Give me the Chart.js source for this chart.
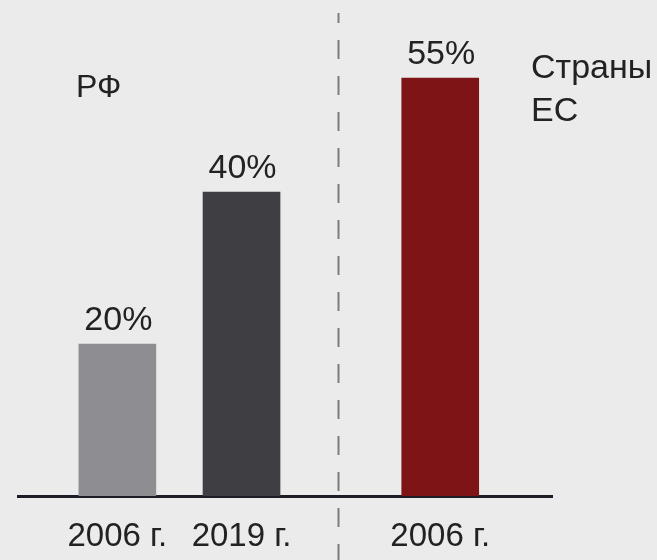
<!DOCTYPE html>
<html lang="ru">
<head>
<meta charset="utf-8">
<title>РФ / Страны ЕС</title>
<script src="https://cdn.jsdelivr.net/npm/chart.js@4"></script>
<style>
  html, body { margin: 0; padding: 0; background: #ebebeb; }
  #wrap { width: 657px; height: 560px; position: relative; }
</style>
</head>
<body>
<div id="wrap"><canvas id="chart"></canvas></div>
<script>
// Данные графика
const yearLabels = ['2006 г.', '2019 г.', '2006 г.'];
const shares = [20, 40, 55];
const groupPos = [1, 2, 3.6];      // положение столбцов на оси X (РФ | ЕС)
const dividerPos = 2.78;           // разделитель между группами
const barColors = ['#8e8d91', '#3f3e43', '#7f1416'];
const groupTitles = [
  { lines: ['РФ'], x: 76, y: 97 },
  { lines: ['Страны', 'ЕС'], x: 531, y: 78 }
];

const FONT = '"Liberation Sans", Arial, Helvetica, sans-serif';
const TEXT_COLOR = '#222222';

/**
 * Подписи значений над столбцами, пунктир и заголовки групп
 */
const decorPlugin = {
  id: 'decor',
  afterDatasetsDraw(chart) {
    const { ctx } = chart;
    const meta = chart.getDatasetMeta(0);
    ctx.save();
    ctx.fillStyle = TEXT_COLOR;
    ctx.font = `34px ${FONT}`;
    ctx.textAlign = 'center';
    ctx.textBaseline = 'alphabetic';
    meta.data.forEach((bar, i) => {
      ctx.fillText(shares[i] + '%', bar.x + 1, bar.y - 14);
    });

    // Вертикальный пунктир
    const xDiv = Math.round(chart.scales.x.getPixelForValue(dividerPos)) + 0.5;
    ctx.strokeStyle = '#7d7d7d';
    ctx.lineWidth = 2;
    ctx.setLineDash([19, 17]);
    ctx.lineDashOffset = 9;
    ctx.beginPath();
    ctx.moveTo(xDiv, 13);
    ctx.lineTo(xDiv, chart.height);
    ctx.stroke();
    ctx.setLineDash([]);

    // Заголовки групп
    ctx.textAlign = 'left';
    groupTitles.forEach(t => {
      ctx.font = `${t.lines.length > 1 ? 34 : 32}px ${FONT}`;
      t.lines.forEach((line, k) => ctx.fillText(line, t.x, t.y + k * 43));
    });
    ctx.restore();
  }
};

document.addEventListener('DOMContentLoaded', () => {
  new Chart(document.getElementById('chart'), {
    type: 'bar',
    data: {
      datasets: [{
        data: groupPos.map((x, i) => ({ x, y: shares[i] })),
        backgroundColor: barColors,
        barThickness: 77,
        borderWidth: 0
      }]
    },
    options: {
      responsive: true,
      maintainAspectRatio: false,
      animation: false,
      layout: { padding: { top: 40, left: 18, right: 105, bottom: 0 } },
      plugins: {
        legend: { display: false },
        tooltip: { enabled: false }
      },
      scales: {
        x: {
          type: 'linear',
          offset: false,
          min: 0.2,
          max: 4.5,
          afterBuildTicks: scale => {
            scale.ticks = groupPos.map(v => ({ value: v }));
          },
          afterFit: scale => { scale.height = 64; },
          ticks: {
            autoSkip: false,
            maxRotation: 0,
            padding: 21,
            color: TEXT_COLOR,
            font: { family: FONT, size: 33 },
            callback: (v, i) => yearLabels[i]
          },
          grid: { color: 'transparent', drawTicks: false },
          border: { display: true, color: '#1c1c24', width: 3 }
        },
        y: {
          display: false,
          min: 0,
          max: 60
        }
      }
    },
    plugins: [decorPlugin]
  });
});
</script>
</body>
</html>
